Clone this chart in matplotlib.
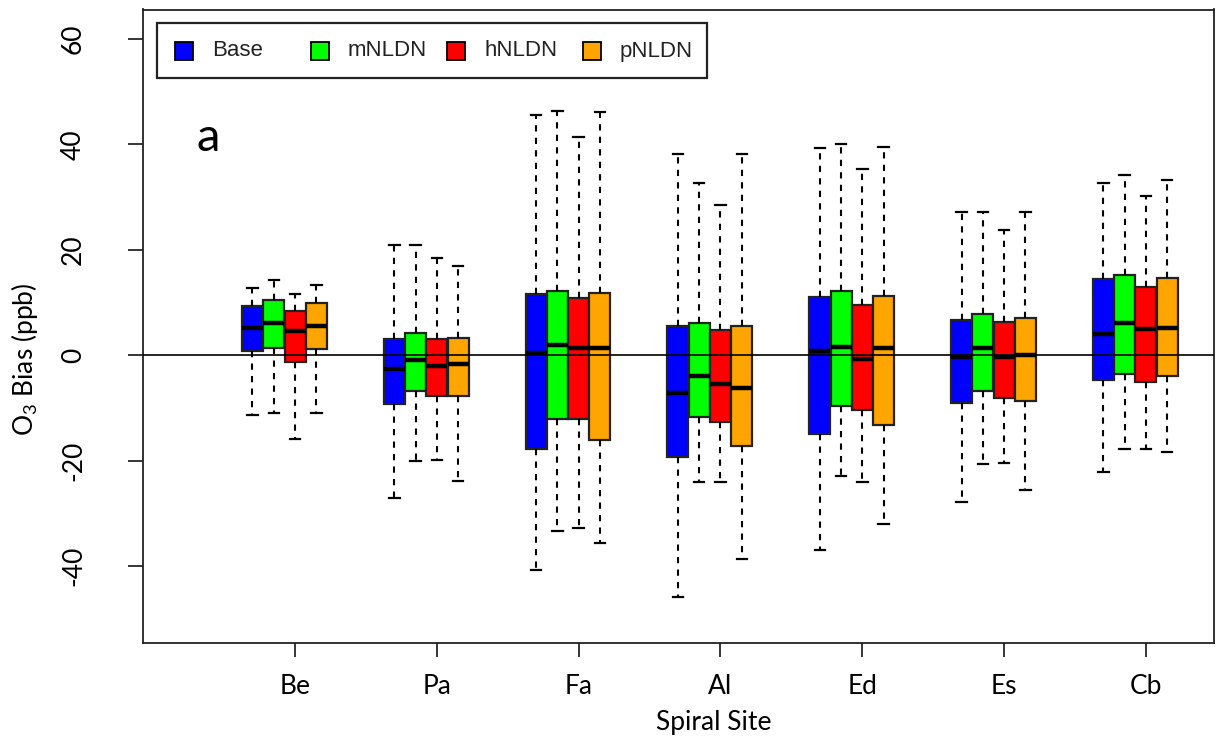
import matplotlib
matplotlib.use("Agg")
import matplotlib.pyplot as plt
from matplotlib.patches import Rectangle

plt.rcParams['font.family'] = ['Liberation Sans', 'DejaVu Sans']
plt.rcParams['mathtext.fontset'] = 'custom'
plt.rcParams['mathtext.rm'] = 'Lato'
plt.rcParams['mathtext.default'] = 'rm'

sites = ['Be', 'Pa', 'Fa', 'Al', 'Ed', 'Es', 'Cb']
series = ['Base', 'mNLDN', 'hNLDN', 'pNLDN']
colors = ['#0000ff', '#00ff00', '#ff0000', '#ffa500']

# rows = series (Base, mNLDN, hNLDN, pNLDN), columns = sites
whisker_hi = [[12.8, 20.9, 45.5, 38.1, 39.4, 27.2, 32.7],
              [14.2, 20.9, 46.4, 32.6, 40.1, 27.2, 34.2],
              [11.6, 18.4, 41.4, 28.5, 35.4, 23.8, 30.2],
              [13.3, 17.0, 46.2, 38.1, 39.6, 27.2, 33.3]]
q3 = [[9.3, 3.0, 11.6, 5.6, 11.0, 6.7, 14.4],
      [10.4, 4.2, 12.1, 6.1, 12.1, 7.8, 15.3],
      [8.3, 3.0, 10.8, 4.7, 9.6, 6.4, 13.0],
      [9.9, 3.3, 11.9, 5.6, 11.3, 7.0, 14.7]]
median = [[5.1, -2.6, 0.5, -7.2, 0.8, -0.4, 4.0],
          [6.1, -0.9, 2.0, -3.9, 1.5, 1.3, 6.2],
          [4.6, -2.0, 1.3, -5.4, -0.7, -0.4, 4.9],
          [5.5, -1.7, 1.3, -6.2, 1.3, 0.1, 5.2]]
q1 = [[0.8, -9.3, -17.8, -19.3, -15.0, -9.0, -4.7],
      [1.3, -6.7, -12.1, -11.8, -9.6, -6.7, -3.5],
      [-1.2, -7.8, -12.1, -12.7, -10.4, -8.1, -5.0],
      [1.1, -7.8, -16.1, -17.3, -13.3, -8.7, -3.9]]
whisker_lo = [[-11.3, -27.1, -40.7, -45.8, -36.9, -27.9, -22.1],
              [-11.0, -20.1, -33.3, -24.1, -23.0, -20.7, -17.8],
              [-15.8, -19.8, -32.7, -24.1, -24.1, -20.4, -17.8],
              [-11.0, -23.9, -35.6, -38.7, -32.1, -25.5, -18.4]]

offsets = [-0.30, -0.15, 0.0, 0.15]
width = 0.148

fig = plt.figure(figsize=(12.25, 7.46), dpi=100)
ax = fig.add_axes([143/1225, 103/746, 1071/1225, 633.5/746])

for s in range(4):
    stats = []
    for i in range(len(sites)):
        stats.append(dict(med=median[s][i], q1=q1[s][i], q3=q3[s][i],
                          whislo=whisker_lo[s][i], whishi=whisker_hi[s][i],
                          fliers=[]))
    pos = [i + 1 + offsets[s] for i in range(len(sites))]
    ax.bxp(stats, positions=pos, widths=width, patch_artist=True,
           showfliers=False, manage_ticks=False,
           boxprops=dict(facecolor=colors[s], edgecolor='#222222', linewidth=1.6),
           medianprops=dict(color='black', linewidth=3.2, solid_capstyle='butt'),
           whiskerprops=dict(color='black', linewidth=1.5, linestyle=(0, (3, 3))),
           capprops=dict(color='black', linewidth=1.6))

ax.axhline(0, color='black', linewidth=1.2, zorder=5)

ax.set_xlim(-0.072, 7.48)
ax.set_ylim(-54.6, 65.6)
ax.set_xticks(range(1, 8))
ax.set_xticklabels(sites, fontfamily='Lato', fontsize=19)
ax.set_yticks([-40, -20, 0, 20, 40, 60])
ax.set_yticklabels(['-40', '-20', '0', '20', '40', '60'], rotation=90,
                   va='center', fontfamily='Lato', fontsize=19)
ax.tick_params(axis='y', length=11, width=1.1, pad=30)
ax.tick_params(axis='x', length=10, width=1.1, pad=12)
for sp in ax.spines.values():
    sp.set_linewidth(1.3)
    sp.set_color('#222222')

ax.set_xlabel('Spiral Site', fontfamily='Lato', fontsize=19)
ax.xaxis.set_label_coords(0.533, -0.105)
ax.set_ylabel('O$_3$ Bias (ppb)', fontfamily='Lato', fontsize=19)
ax.yaxis.set_label_coords(-0.096, 0.447)

ax.text(0.061, 0.797, 'a', transform=ax.transAxes, fontfamily='Lato',
        fontsize=34, ha='center', va='center')

# legend drawn R-style with fixed column width
def ax_x(px):
    return (px - 143) / 1071

def ax_y(py):
    return (643 - py) / 633.5

ax.add_patch(Rectangle((ax_x(157), ax_y(78)), 550/1071, 55/633.5,
                       transform=ax.transAxes, facecolor='white',
                       edgecolor='#222222', linewidth=1.6, zorder=6))
for k, name in enumerate(series):
    x0 = 175 + 136 * k
    ax.add_patch(Rectangle((ax_x(x0), ax_y(60)), 18/1071, 18/633.5,
                           transform=ax.transAxes, facecolor=colors[k],
                           edgecolor='black', linewidth=1.3, zorder=7))
    ax.text(ax_x(x0 + 37), ax_y(51), name, transform=ax.transAxes,
            fontsize=16, ha='left', va='center', zorder=7, color='#222222')

fig.savefig('out.png', dpi=100)
